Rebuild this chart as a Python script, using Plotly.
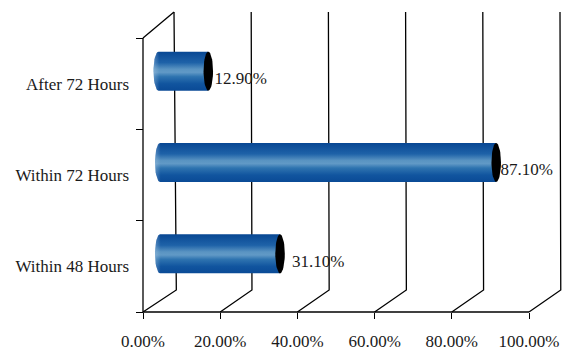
import numpy as np
import plotly.graph_objects as go

categories = ["Within 48 Hours", "Within 72 Hours", "After 72 Hours"]
values = [31.1, 87.1, 12.9]
x_ticks = [0, 20, 40, 60, 80, 100]
x_labels = ["0.00%", "20.00%", "40.00%", "60.00%", "80.00%", "100.00%"]
slot_edges = [-0.5, 0.5, 1.5, 2.5]

W, H = 566, 351
INK = "#1a1a1a"
SERIF = "Liberation Serif, serif"
AXIS_LEFT, AXIS_BOTTOM = 143, 312   # pixel position of the origin
PX_X = 386 / 100                    # pixels per percent
PX_Y = 274 / 3                      # pixels per category slot
DEPTH_X = 31 / PX_X
DEPTH_Y = 22 / PX_Y
WALL_TOP = 2.5 + 26 / PX_Y
BAR_H = 39 / PX_Y
BAR_LIFT = 12.5 / PX_Y
CAP_RX = 5 / PX_X
BAR_START = [17 / PX_X, 17 / PX_X, 15.5 / PX_X]
LABEL_GAP = [3.1, 1.1, 1.6]

BODY_SCALE = [
    [0.00, "#0a4a96"], [0.18, "#11559f"], [0.36, "#2f74b0"],
    [0.47, "#6199c6"], [0.55, "#5a94c2"], [0.72, "#1e62a8"], [1.00, "#084793"],
]

fig = go.Figure()


def line(xs, ys, width=1.3):
    fig.add_trace(go.Scatter(x=xs, y=ys, mode="lines", hoverinfo="skip",
                             line=dict(color="#000000", width=width), showlegend=False))


# Front axes
line([0, 100], [-0.5, -0.5])
line([0, 0], [-0.5, 2.5])
# Back wall uprights and the floor diagonals that meet them
for tick in x_ticks:
    foot_x = tick + DEPTH_X + (0.6 if tick == 0 else 0.2)
    line([tick, foot_x, tick + DEPTH_X], [-0.5, -0.5 + DEPTH_Y, WALL_TOP])
# Top edge of the side wall
line([0, DEPTH_X], [2.5, WALL_TOP])

# Cylinders: gradient body, pale rim on the near end, black far end
theta = np.linspace(0, 2 * np.pi, 49)
half = np.linspace(np.pi / 2, 3 * np.pi / 2, 25)
for i, (name, value) in enumerate(zip(categories, values)):
    start = BAR_START[i]
    end = start + value
    cy = i + BAR_LIFT
    ry = BAR_H / 2
    body_x = list(start + CAP_RX * np.cos(half)) + [end, end, start]
    body_y = list(cy + ry * np.sin(half)) + [cy - ry, cy + ry, cy + ry]
    fig.add_trace(go.Scatter(
        x=body_x, y=body_y, mode="lines", fill="toself",
        line=dict(width=0), hoverinfo="skip", showlegend=False, name=name,
        fillgradient=dict(type="vertical", colorscale=BODY_SCALE),
    ))
    rim_x = list(start + CAP_RX * np.cos(half)) + [start + 0.2, start + 0.2, start]
    rim_y = list(cy + ry * np.sin(half)) + [cy - ry, cy + ry, cy + ry]
    fig.add_trace(go.Scatter(
        x=rim_x, y=rim_y, mode="lines", fill="toself",
        line=dict(width=0), hoverinfo="skip", showlegend=False,
        fillgradient=dict(type="horizontal", colorscale=[
            [0, "rgba(170,200,228,0.4)"], [1, "rgba(170,200,228,0)"]]),
    ))
    fig.add_trace(go.Scatter(
        x=end + CAP_RX * 0.95 * np.cos(theta), y=cy + ry * np.sin(theta),
        mode="lines", fill="toself", fillcolor="#000000",
        line=dict(width=0, color="#000000"), hoverinfo="skip", showlegend=False,
    ))
    fig.add_trace(go.Scatter(
        x=[end + LABEL_GAP[i]], y=[cy - 8.5 / PX_Y], mode="text",
        text=[f"{value:.2f}%"], textposition="middle right",
        textfont=dict(family=SERIF, size=17, color=INK), hoverinfo="skip", showlegend=False,
    ))

# The plot area fills the page so the depth lines are free to leave the front frame;
# the two axes sit at the origin and carry only ticks and labels.
x_range = [-AXIS_LEFT / PX_X, (W - AXIS_LEFT) / PX_X]
y_range = [-0.5 - (H - AXIS_BOTTOM) / PX_Y, -0.5 + AXIS_BOTTOM / PX_Y]

fig.update_layout(
    width=W, height=H, paper_bgcolor="white", plot_bgcolor="white",
    margin=dict(l=0, r=0, t=0, b=0), showlegend=False,
    xaxis=dict(range=x_range, tickvals=x_ticks, ticktext=x_labels, showgrid=False,
               zeroline=False, showline=False, automargin=False,
               anchor="free", position=(H - AXIS_BOTTOM) / H,
               ticks="outside", ticklen=6, tickcolor="#000000", tickwidth=1.3,
               ticklabelstandoff=8,
               tickfont=dict(family=SERIF, size=17, color=INK)),
    yaxis=dict(range=y_range, tickvals=[0, 1, 2], ticktext=categories, showgrid=False,
               zeroline=False, showline=False, automargin=False,
               anchor="free", position=AXIS_LEFT / W,
               ticks="", ticklabelstandoff=14,
               tickfont=dict(family=SERIF, size=17, color=INK),
               minor=dict(tickvals=slot_edges, ticks="outside", ticklen=7,
                          tickcolor="#000000", tickwidth=1.3)),
)

fig.write_html("out.html")
